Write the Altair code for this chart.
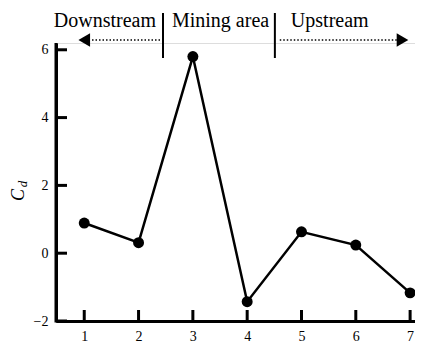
import altair as alt
import pandas as pd

# data
sites = [1, 2, 3, 4, 5, 6, 7]
cd_values = [0.89, 0.31, 5.8, -1.43, 0.63, 0.24, -1.17]
x_ticks = [1, 2, 3, 4, 5, 6, 7]
y_ticks = [-2, 0, 2, 4, 6]
region_labels = ["Downstream", "Mining area", "Upstream"]
region_label_x = [1.38, 3.51, 5.52]
region_bounds = [2.45, 4.51]

W, H = 359, 278
FONT = "Liberation Serif"

df = pd.DataFrame({"site": sites, "cd": cd_values})
xscale = alt.Scale(domain=[0.48, 7.09], nice=False, zero=False)
yscale = alt.Scale(domain=[-2, 6.2], nice=False, zero=False)

xax = alt.Axis(values=x_ticks, title=None)
yax = alt.Axis(values=y_ticks, title=None)

base = alt.Chart(df)
line = base.mark_line(color="black", strokeWidth=2.5).encode(
    x=alt.X("site:Q", scale=xscale, axis=xax),
    y=alt.Y("cd:Q", scale=yscale, axis=yax),
)
pts = base.mark_point(filled=True, color="black", size=120, opacity=1).encode(
    x=alt.X("site:Q", scale=xscale, axis=xax),
    y=alt.Y("cd:Q", scale=yscale, axis=yax),
)

xt = alt.Chart(pd.DataFrame({"v": x_ticks})).mark_rule(color="black", strokeWidth=3).encode(
    x=alt.X("v:Q", scale=xscale, axis=xax), y=alt.value(H), y2=alt.value(H - 11))
yt = alt.Chart(pd.DataFrame({"v": y_ticks})).mark_rule(color="black", strokeWidth=3).encode(
    y=alt.Y("v:Q", scale=yscale, axis=yax), x=alt.value(0), x2=alt.value(11))

# explicit y axis line (thick)
yline = alt.Chart(pd.DataFrame({"v": [0]})).mark_rule(color="black", strokeWidth=3).encode(
    x=alt.value(0), y=alt.value(0), y2=alt.value(H + 1.5))

labels = alt.Chart(pd.DataFrame({"t": region_labels, "x": region_label_x})).mark_text(
    font=FONT, fontSize=20, color="black", baseline="alphabetic", align="center"
).encode(x=alt.X("x:Q", scale=xscale, axis=xax), y=alt.value(-16), text="t:N")

bars = alt.Chart(pd.DataFrame({"x": region_bounds})).mark_rule(color="black", strokeWidth=2).encode(
    x=alt.X("x:Q", scale=xscale, axis=xax), y=alt.value(-30), y2=alt.value(15))

arrows_df = pd.DataFrame({"x1": [0.95, 4.6], "x2": [2.42, 6.85]})
arrow_lines = alt.Chart(arrows_df).mark_rule(color="black", strokeWidth=1.5, strokeDash=[1.5, 2]).encode(
    x=alt.X("x1:Q", scale=xscale, axis=xax), x2="x2:Q", y=alt.value(-3))
heads_df = pd.DataFrame({"x": [1.0, 6.86], "s": ["triangle-left", "triangle-right"]})
heads = alt.Chart(heads_df).mark_point(filled=True, color="black", size=180, opacity=1).encode(
    x=alt.X("x:Q", scale=xscale, axis=xax), y=alt.value(-3),
    shape=alt.Shape("s:N", scale=alt.Scale(domain=["triangle-left", "triangle-right"],
                                           range=["triangle-left", "triangle-right"]), legend=None))

tC = alt.Chart(pd.DataFrame({"t": ["C"]})).mark_text(
    font=FONT, fontSize=18, fontStyle="italic", angle=270, color="black", align="center", baseline="middle"
).encode(x=alt.value(-37), y=alt.value(152), text="t:N")
td = alt.Chart(pd.DataFrame({"t": ["d"]})).mark_text(
    font=FONT, fontSize=13, fontStyle="italic", angle=270, color="black", align="center", baseline="middle"
).encode(x=alt.value(-33), y=alt.value(141), text="t:N")

chart = alt.layer(line, pts, xt, yt, yline, labels, bars, arrow_lines, heads, tC, td).properties(
    width=W, height=H,
    autosize=alt.AutoSizeParams(type="none"),
    padding={"left": 48, "top": 35, "right": 0, "bottom": 23},
).configure_view(stroke=None).configure(background="white").configure_axis(
    tickSize=0, domainWidth=3, domainColor="black", domainOpacity=1,
    labelFont=FONT, labelFontSize=14, labelColor="black", labelPadding=8, grid=False,
)

chart.save("out.html", embed_options={"renderer": "svg", "actions": False})
